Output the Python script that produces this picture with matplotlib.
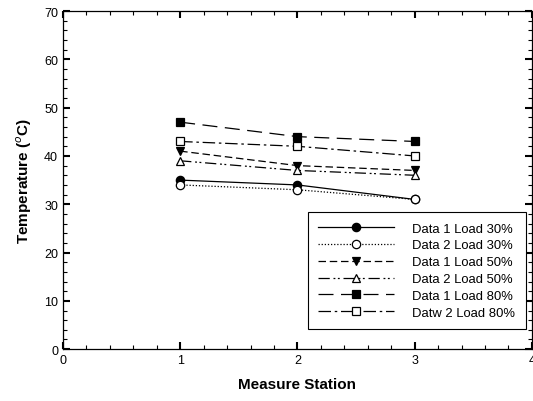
import matplotlib
matplotlib.use("Agg")
import matplotlib.pyplot as plt
from matplotlib.ticker import MultipleLocator

plt.rcParams['font.family'] = ['Liberation Sans', 'DejaVu Sans']

# measured temperatures at each station
stations = [1, 2, 3]
labels = ["Data 1 Load 30%", "Data 2 Load 30%", "Data 1 Load 50%",
          "Data 2 Load 50%", "Data 1 Load 80%", "Datw 2 Load 80%"]
d1_30 = [35, 34, 31]
d2_30 = [34, 33, 31]
d1_50 = [41, 38, 37]
d2_50 = [39, 37, 36]
d1_80 = [47, 44, 43]
d2_80 = [43, 42, 40]
series = [d1_30, d2_30, d1_50, d2_50, d1_80, d2_80]

styles = [
    dict(ls='-', marker='o', mfc='black'),
    dict(ls=(0, (1, 1.5)), marker='o', mfc='white'),
    dict(ls=(0, (6, 3)), marker='v', mfc='black'),
    dict(ls=(0, (9, 3, 1.5, 2, 1.5, 3)), marker='^', mfc='white'),
    dict(ls=(0, (12, 6)), marker='s', mfc='black'),
    dict(ls=(0, (10, 3, 2, 3)), marker='s', mfc='white'),
]

fig = plt.figure(figsize=(5.33, 4.02), dpi=100)
ax = fig.add_axes([0.118, 0.129, 0.880, 0.841])

for vals, lab, st in zip(series, labels, styles):
    ax.plot(stations, vals, color='black', lw=0.9, ls=st['ls'],
            marker=st['marker'], mfc=st['mfc'], mec='black', ms=6,
            mew=0.9, label=lab)

ax.set_xlim(0, 4)
ax.set_ylim(0, 70)
ax.xaxis.set_major_locator(MultipleLocator(1))
ax.xaxis.set_minor_locator(MultipleLocator(0.2))
ax.yaxis.set_major_locator(MultipleLocator(10))
ax.yaxis.set_minor_locator(MultipleLocator(2))
ax.tick_params(which='both', direction='in', top=True, right=True,
               labelsize=9)
ax.tick_params(which='major', length=5, width=1.5)
ax.tick_params(which='minor', length=3, width=0.8)
for sp in ax.spines.values():
    sp.set_linewidth(0.9)

ax.set_xlabel("Measure Station", fontsize=11, fontweight='bold', labelpad=8)
ax.set_ylabel("Temperature ($^{o}$C)", fontsize=11, fontweight='bold', labelpad=7)

leg = ax.legend(loc='lower right', bbox_to_anchor=(0.987, 0.059),
                borderaxespad=0, fontsize=9.4, handlelength=5.8,
                labelspacing=0.36, fancybox=False, edgecolor='black',
                framealpha=1, borderpad=0.8, handletextpad=1.4)
leg.get_frame().set_linewidth(0.8)

fig.savefig("out.png", dpi=100)
